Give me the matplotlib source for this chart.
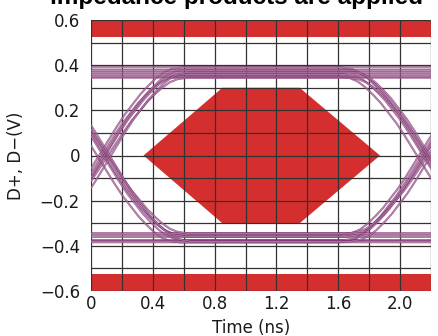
import numpy as np
import matplotlib.pyplot as plt
from matplotlib.patches import Polygon

# eye mask (ns, V)
mask_t = [0.34, 0.85, 1.35, 1.87, 1.35, 0.85]
mask_v = [0.0, 0.3, 0.3, 0.0, -0.3, -0.3]
limit_v = 0.525  # outer limit bands

# crossing times of the two edges (ns)
cross_t = [0.09, 2.16]
# per-trace jitter, high and low levels
jitter = [-0.035, -0.02, -0.005, 0.005, 0.02, 0.035]
high_v = [0.35, 0.39, 0.36, 0.38, 0.345, 0.37]
low_v = [-0.385, -0.35, -0.375, -0.36, -0.345, -0.38]
# edge profile around a crossing (offset ns, normalized level)
edge_dt = [-0.52, -0.45, -0.4, -0.35, -0.3, -0.25, -0.2, -0.15, -0.1, -0.05, 0.0,
           0.05, 0.1, 0.15, 0.2, 0.25, 0.3, 0.35, 0.4, 0.45, 0.52]
edge_n = [-1.0, -0.98, -0.94, -0.87, -0.78, -0.68, -0.56, -0.44, -0.3, -0.15, 0.0,
          0.15, 0.3, 0.44, 0.56, 0.68, 0.78, 0.87, 0.94, 0.98, 1.0]
bit_seqs = [(a, b, c) for a in (0, 1) for b in (0, 1) for c in (0, 1)]

x_ticks = [0, 0.4, 0.8, 1.2, 1.6, 2.0]
x_labels = ['0', '0.4', '0.8', '1.2', '1.6', '2.0']
y_ticks = [-0.6, -0.4, -0.2, 0, 0.2, 0.4, 0.6]
y_labels = ['\u22120.6', '\u22120.4', '\u22120.2', '0', '0.2', '0.4', '0.6']

plt.rcParams['font.family'] = ['DejaVu Sans']
fig = plt.figure(figsize=(4.38, 3.36), dpi=100)
ax = fig.add_axes([91/438, 1 - 291/336, 340/438, 271/336])

red = '#d42f2e'
ax.add_patch(Polygon(np.column_stack([mask_t, mask_v]), closed=True,
                     facecolor=red, edgecolor='none', zorder=1))
ax.axhspan(limit_v, 0.6, color=red, lw=0, zorder=1)
ax.axhspan(-0.6, -limit_v, color=red, lw=0, zorder=1)


def trace(bits, hi, lo, dj):
    lv = [hi if b else lo for b in bits]
    ts, vs = [-0.7], [lv[0]]
    for k, tc in enumerate(cross_t):
        a, b = lv[k], lv[k + 1]
        if a != b:
            mid, amp = (a + b) / 2, (b - a) / 2
            ts += [tc + dj + d for d in edge_dt]
            vs += [mid + amp * n for n in edge_n]
    ts.append(2.9)
    vs.append(lv[-1])
    return ts, vs


for hi, lo, dj in zip(high_v, low_v, jitter):
    for bits in bit_seqs:
        ts, vs = trace(bits, hi, lo, dj)
        ax.plot(ts, vs, color='#7e3470', lw=1.4, alpha=0.5, zorder=3)
        ax.plot(ts, vs, color='#f4dcec', lw=0.4, alpha=0.4, zorder=3)

ax.set_xlim(0, 2.2)
ax.set_ylim(-0.6, 0.6)
ax.set_xticks(x_ticks)
ax.set_xticklabels(x_labels)
ax.set_xticks(np.arange(0, 2.21, 0.2), minor=True)
ax.set_yticks(y_ticks)
ax.set_yticklabels(y_labels)
ax.set_yticks(np.arange(-0.6, 0.61, 0.1), minor=True)
ax.grid(which='both', color='#333333', lw=0.9)
for gl in ax.get_xgridlines() + ax.get_ygridlines():
    gl.set_zorder(2)
ax.tick_params(which='both', length=0, labelsize=12, colors='#1a1a1a')
ax.tick_params(axis='y', pad=8)
ax.tick_params(axis='x', pad=3)
for s in ax.spines.values():
    s.set_visible(False)

ax.set_xlabel('Time (ns)', fontsize=12, color='#1a1a1a')
ax.set_ylabel('D+, D\u2212(V)', fontsize=12, color='#1a1a1a')
ax.xaxis.set_label_coords(0.47, -0.105)
ax.yaxis.set_label_coords(-0.195, 0.5)

fig.text(0.54, 1 - 4/336, 'impedance products are applied', ha='center',
         va='baseline', fontsize=17.5, fontweight='bold', family='Liberation Sans')

fig.savefig('out.png', dpi=100)
